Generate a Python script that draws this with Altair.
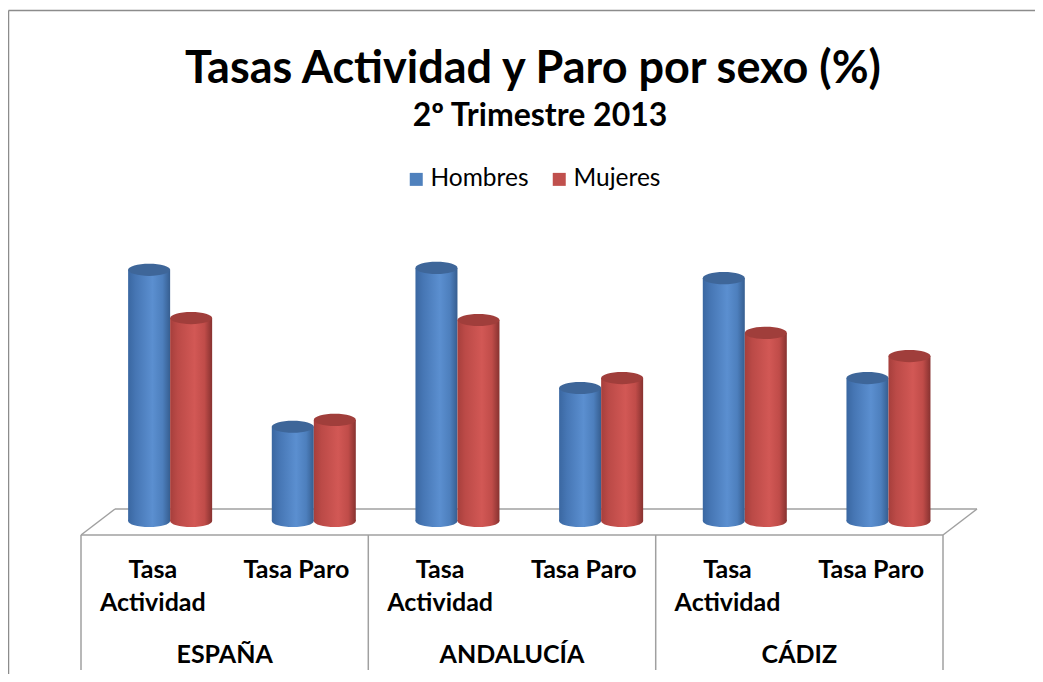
import altair as alt
import pandas as pd

# ---------------- data ----------------
regions = ["ESPAÑA", "ANDALUCÍA", "CÁDIZ"]
indicators = ["Tasa Actividad", "Tasa Paro"]
tick_labels = ["Tasa\nActividad", "Tasa Paro"]
series = ["Hombres", "Mujeres"]
hombres = [66.1, 24.8, 66.6, 35.0, 63.9, 37.6]
mujeres = [53.4, 26.6, 52.9, 37.6, 49.5, 43.4]
title_text = "Tasas Actividad y Paro por sexo (%)"
subtitle_text = "2º Trimestre 2013"

cats = [f"{r}|{i}" for r in regions for i in indicators]

rows = []
for k, c in enumerate(cats):
    rows.append({"cat": c, "serie": series[0], "value": hombres[k]})
    rows.append({"cat": c, "serie": series[1], "value": mujeres[k]})
df = pd.DataFrame(rows)

ticks_df = pd.DataFrame({
    "cat": cats,
    "label": [tick_labels[k % 2] for k in range(len(cats))],
})
groups_df = pd.DataFrame({"cat": [f"{r}|{indicators[0]}" for r in regions], "label": regions})

FONT = "Lato"
BLUE, RED = "#4F81BD", "#C0504D"
LINE = "#a0a0a0"

xscale = alt.Scale(domain=cats, range=[73, 935], paddingInner=0, paddingOuter=0)
yscale = alt.Scale(domain=[0, 100], range=[513, 133])
# bars stand in the middle of the 3-D floor: shifted to the right of the category band
xoff_scale = alt.Scale(domain=series, paddingInner=0, paddingOuter=0.71, align=0.79)

def grad(stops):
    return alt.Gradient(
        gradient="linear", x1=0, x2=1, y1=0, y2=0,
        stops=[alt.GradientStop(offset=o, color=c) for o, c in stops],
    )

blue_grad = grad([(0, "#3a67a1"), (0.18, "#4676b4"), (0.58, "#5b8fd0"), (0.82, "#4d7fbd"), (1, "#365e90")])
red_grad = grad([(0, "#a63f3c"), (0.18, "#bb4a47"), (0.58, "#d25855"), (0.82, "#c04c49"), (1, "#873230")])

ELLIPSE = "M-1,0A1,0.29,0,1,1,1,0A1,0.29,0,1,1,-1,0Z"
SIZE = 42 * 42

one = alt.Data(values=[{}])

def rule(x, y, x2, y2, color=LINE, w=1.5):
    return alt.Chart(one).mark_rule(color=color, strokeWidth=w).encode(
        x=alt.value(x), y=alt.value(y), x2=alt.value(x2), y2=alt.value(y2)
    )

layers = []
# outer frame (left and top edges visible in the picture)
layers.append(rule(0.5, 2.5, 1027, 2.5, "#8c8c8c", 1.5))
layers.append(rule(0.5, 2.5, 0.5, 666, "#8c8c8c", 1.5))
# floor
layers.append(rule(107, 501, 969, 501))
layers.append(rule(73, 527, 107, 501))
layers.append(rule(935, 527, 969, 501))
layers.append(rule(73, 527, 935, 527))
for xv in [73, 360.3, 647.7, 935]:
    layers.append(rule(xv, 527, xv, 662))

base = alt.Chart(df)

# legend carrier (invisible bars)
layers.append(
    base.mark_bar(opacity=0).encode(
        x=alt.X("cat:N", scale=xscale, axis=None),
        xOffset=alt.XOffset("serie:N", scale=xoff_scale),
        y=alt.Y("value:Q", scale=yscale, axis=None),
        color=alt.Color(
            "serie:N",
            scale=alt.Scale(domain=series, range=[BLUE, RED]),
            legend=alt.Legend(
                title=None, orient="none", direction="horizontal",
                legendX=396, legendY=159, symbolType="square", symbolSize=169,
                symbolOpacity=1, symbolStrokeWidth=0, labelFont=FONT,
                labelFontSize=24.5, labelColor="#000", labelOffset=2,
                columnPadding=18, padding=0,
            ),
        ),
    )
)

for s, g, top in [(series[0], blue_grad, "#3e6699"), (series[1], red_grad, "#a03e3b")]:
    b = base.transform_filter(alt.datum.serie == s)
    enc = dict(
        x=alt.X("cat:N", scale=xscale, axis=None),
        xOffset=alt.XOffset("serie:N", scale=xoff_scale),
    )
    layers.append(
        b.mark_bar(fill=g, strokeWidth=0).encode(
            y=alt.Y("value:Q", scale=yscale, axis=None), **enc
        )
    )
    layers.append(
        b.mark_point(shape=ELLIPSE, size=SIZE, filled=True, fill=g, opacity=1,
                     strokeWidth=0).encode(
            y=alt.YDatum(0, scale=yscale, axis=None), **enc
        )
    )
    layers.append(
        b.mark_point(shape=ELLIPSE, size=SIZE, filled=True, fill=top, opacity=1,
                     strokeWidth=0).encode(
            y=alt.Y("value:Q", scale=yscale, axis=None), **enc
        )
    )

# category labels
layers.append(
    alt.Chart(ticks_df).mark_text(font=FONT, fontWeight="bold", fontSize=25,
                                  lineBreak="\n", lineHeight=33, baseline="alphabetic",
                                  color="#000").encode(
        x=alt.X("cat:N", scale=xscale, axis=None), y=alt.value(570), text="label:N"
    )
)
layers.append(
    alt.Chart(groups_df).mark_text(font=FONT, fontWeight="bold", fontSize=25,
                                   baseline="alphabetic", color="#000").encode(
        x=alt.X("cat:N", scale=xscale, axis=None, bandPosition=1),
        y=alt.value(655), text="label:N"
    )
)
# titles
layers.append(
    alt.Chart(pd.DataFrame({"t": [title_text]})).mark_text(
        font=FONT, fontWeight="bold", fontSize=45, baseline="alphabetic", color="#000"
    ).encode(x=alt.value(525), y=alt.value(75), text="t:N")
)
layers.append(
    alt.Chart(pd.DataFrame({"t": [subtitle_text]})).mark_text(
        font=FONT, fontWeight="bold", fontSize=32, baseline="alphabetic", color="#000"
    ).encode(x=alt.value(532), y=alt.value(118), text="t:N")
)

chart = alt.layer(*layers).properties(
    width=1027, height=666, padding=0, autosize=alt.AutoSizeParams(type="none")
).configure_view(stroke=None)

chart.save("out.html", embed_options={"renderer": "svg", "actions": False})
